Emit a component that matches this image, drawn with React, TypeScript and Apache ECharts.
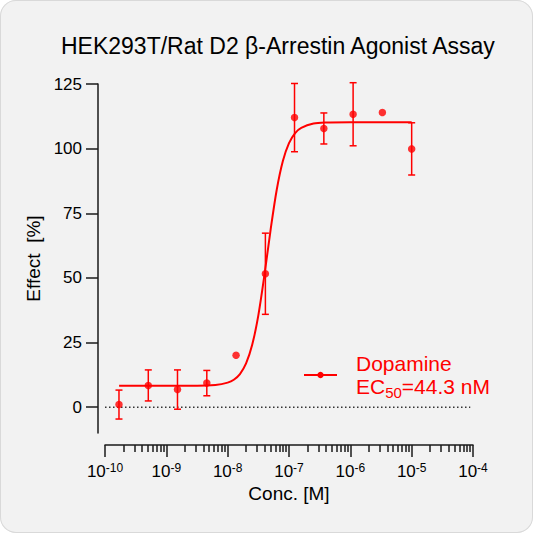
import { useEffect, useRef } from "react";
import * as echarts from "echarts";

// 3-fold dilution series, concentrations in M
const concM = [1.69e-10, 5.08e-10, 1.52e-9, 4.57e-9, 1.37e-8, 4.12e-8, 1.23e-7, 3.7e-7, 1.11e-6, 3.33e-6, 1e-5];
const effectMean = [1.0, 8.4, 6.8, 9.3, 20.1, 51.6, 112.0, 107.8, 113.3, 114.0, 99.9];
const effectErr = [5.6, 6.0, 7.6, 4.9, 0, 15.7, 13.2, 6.0, 12.2, 0, 10.1];

// fitted curve (log10 M, %)
const curveLogX = [-9.77, -9.0, -8.5, -8.2, -8.0, -7.9, -7.8, -7.7, -7.6, -7.5, -7.4, -7.3, -7.2, -7.1, -7.0, -6.9, -6.8, -6.6, -6.4, -6.0, -5.0];
const curveY = [8.3, 8.3, 8.3, 8.6, 9.5, 10.6, 12.8, 16.9, 24.1, 35.5, 51.2, 68.6, 84.1, 95.2, 102.1, 106.0, 108.0, 109.7, 110.1, 110.2, 110.2];

const xTickExps = [-10, -9, -8, -7, -6, -5, -4];
const yTicks = [0, 25, 50, 75, 100, 125];
const minorMults = [2, 3, 4, 5, 6, 7, 8, 9];

const font = "'Liberation Sans', Arial, sans-serif";
const red = "#ff0000";
const axisColor = "#1a1a1a";

export default function App() {
  const chartRef = useRef<HTMLDivElement>(null);

  useEffect(() => {
    if (!chartRef.current) return;
    const chart = echarts.init(chartRef.current, undefined, { renderer: "svg" });

    const logX = concM.map((c) => Math.log10(c));
    const points = logX.map((x, i) => [x, effectMean[i]]);
    const errData = logX.map((x, i) => [x, effectMean[i], effectErr[i]]);
    const curve = curveLogX.map((x, i) => [x, curveY[i]]);
    const xMinor: number[] = [];
    xTickExps.slice(0, -1).forEach((n) => minorMults.forEach((k) => xMinor.push(n + Math.log10(k))));

    const axisLineStyle = { color: axisColor, width: 1.5 };

    chart.setOption({
      animation: false,
      title: {
        text: "HEK293T/Rat D2 β-Arrestin Agonist Assay",
        left: 61,
        top: 34,
        padding: 0,
        textStyle: { fontFamily: font, fontSize: 23, fontWeight: "normal", color: "#000" },
      },
      legend: {
        data: ["Dopamine"],
        left: 303,
        top: 353,
        padding: 0,
        itemWidth: 33,
        itemHeight: 8,
        selectedMode: false,
        formatter: () => "{a|Dopamine}\n{a|EC}{sub|50}{a|=44.3 nM}",
        textStyle: {
          padding: [0, 0, 0, 14],
          rich: {
            a: { fontFamily: font, fontSize: 21, lineHeight: 23, color: red },
            sub: { fontFamily: font, fontSize: 15, lineHeight: 23, color: red, padding: [12, 0, 0, 0] },
          },
        },
      },
      grid: { left: 105, right: 60, top: 84, bottom: 100 },
      xAxis: [
        {
          type: "value",
          position: "bottom",
          min: -10,
          max: -4,
          interval: 1,
          offset: 12,
          name: "Conc. [M]",
          nameLocation: "middle",
          nameGap: 30,
          nameTextStyle: { fontFamily: font, fontSize: 19, color: "#000" },
          axisLine: { show: true, onZero: false, lineStyle: axisLineStyle },
          axisTick: { show: true, length: 12, lineStyle: axisLineStyle },
          axisLabel: {
            margin: 17,
            formatter: (v: number) => `{b|10}{s|${v}}`,
            rich: {
              b: { fontFamily: font, fontSize: 17, color: "#000" },
              s: { fontFamily: font, fontSize: 12, color: "#000", padding: [0, 0, 6, 0] },
            },
          },
          splitLine: { show: false },
        },
        {
          type: "value",
          position: "bottom",
          min: -10,
          max: -4,
          offset: 12,
          axisLine: { show: false, onZero: false },
          axisTick: { show: true, length: 7, customValues: xMinor, lineStyle: axisLineStyle },
          axisLabel: { show: false },
          splitLine: { show: false },
        },
      ],
      yAxis: {
        type: "value",
        min: -10,
        max: 125,
        offset: 7,
        name: "Effect  [%]",
        nameLocation: "middle",
        nameGap: 55,
        nameTextStyle: { fontFamily: font, fontSize: 19, color: "#000" },
        axisLine: { show: true, onZero: false, lineStyle: axisLineStyle },
        axisTick: { show: true, length: 12, customValues: yTicks, lineStyle: axisLineStyle },
        axisLabel: { customValues: yTicks, margin: 16, fontFamily: font, fontSize: 17, color: "#000" },
        splitLine: { show: false },
      },
      series: [
        {
          type: "line",
          data: [
            [-10.065, 0],
            [-4.045, 0],
          ],
          symbol: "none",
          clip: false,
          silent: true,
          lineStyle: { color: "#333", width: 1.5, type: [1.5, 2.5] },
          z: 1,
        },
        {
          name: "Dopamine",
          type: "line",
          data: curve,
          smooth: 0.3,
          symbol: "circle",
          symbolSize: 7,
          showSymbol: false,
          lineStyle: { color: red, width: 2 },
          itemStyle: { color: red },
          z: 3,
        },
        {
          type: "custom",
          data: errData,
          encode: { x: 0, y: 1 },
          clip: false,
          z: 4,
          renderItem: (_params: any, api: any) => {
            const x = api.value(0);
            const m = api.value(1);
            const e = api.value(2);
            if (!e) return { type: "group", children: [] };
            const top = api.coord([x, m + e]);
            const bot = api.coord([x, m - e]);
            const style = { stroke: red, lineWidth: 1.5 };
            return {
              type: "group",
              children: [
                { type: "line", shape: { x1: top[0], y1: top[1], x2: bot[0], y2: bot[1] }, style },
                { type: "line", shape: { x1: top[0] - 3.5, y1: top[1], x2: top[0] + 3.5, y2: top[1] }, style },
                { type: "line", shape: { x1: bot[0] - 3.5, y1: bot[1], x2: bot[0] + 3.5, y2: bot[1] }, style },
              ],
            };
          },
        },
        {
          type: "scatter",
          data: points,
          symbolSize: 7.5,
          itemStyle: { color: red },
          z: 5,
        },
      ],
    });

    return () => chart.dispose();
  }, []);

  return (
    <div
      style={{
        position: "absolute",
        left: 0,
        top: 0,
        width: 533,
        height: 533,
        background: "#f2f2f2",
        borderRadius: 16,
        boxShadow: "inset 0 0 0 1px #d9d9d9",
      }}
    >
      <div ref={chartRef} style={{ width: 533, height: 533 }} />
    </div>
  );
}
